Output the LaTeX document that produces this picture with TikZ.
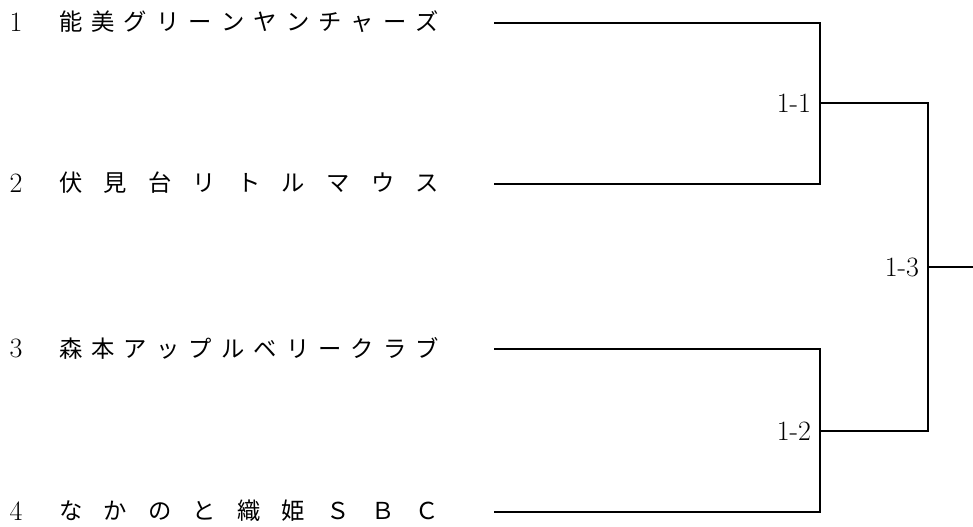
\documentclass[tikz,border=0pt]{standalone}
\usepackage{fontspec}
\newfontfamily\jpfont{Noto Sans CJK JP}
\usetikzlibrary{positioning}
\newcommand{\spreadname}[1]{\makebox[285pt][s]{\jpfont #1}}

\begin{document}
\begin{tikzpicture}[x=0.75pt,y=-0.75pt,line width=1.6pt,node distance=6pt]
  \tikzstyle{every node}=[font=\fontsize{17.5}{20}\selectfont,inner sep=0pt]
  \tikzstyle{seed}=[anchor=center,font=\fontsize{21}{24}\selectfont]
  \tikzstyle{score}=[font=\fontsize{21}{24}\selectfont]
  \tikzstyle{team}=[anchor=west]

  \useasboundingbox (0,0) rectangle (973,527);

  % seeds and team names
  \node[seed] (n1) at (16,22)  {1};
  \node[seed] (n2) at (16,183) {2};
  \node[seed] (n3) at (16,348) {3};
  \node[seed] (n4) at (16,511) {4};
  \node[team] (t1) at (58,22)  {\spreadname{能\hfill 美\hfill グ\hfill リ\hfill ー\hfill ン\hfill ヤ\hfill ン\hfill チ\hfill ャ\hfill ー\hfill ズ}};
  \node[team] (t2) at (58,183) {\spreadname{伏\hfill 見\hfill 台\hfill リ\hfill ト\hfill ル\hfill マ\hfill ウ\hfill ス}};
  \node[team] (t3) at (58,348) {\spreadname{森\hfill 本\hfill ア\hfill ッ\hfill プ\hfill ル\hfill ベ\hfill リ\hfill ー\hfill ク\hfill ラ\hfill ブ}};
  \node[team] (t4) at (58,511) {\spreadname{な\hfill か\hfill の\hfill と\hfill 織\hfill 姫\hfill Ｓ\hfill Ｂ\hfill Ｃ}};

  % bracket points
  \coordinate (s1) at (494,23);
  \coordinate (s2) at (494,184);
  \coordinate (s3) at (494,349);
  \coordinate (s4) at (494,512);
  \coordinate (m1) at (820,103);
  \coordinate (m2) at (820,431);
  \coordinate (m3) at (928,267);
  \coordinate (w)  at (973,267);

  \node[score] (r1) [left=6pt of m1] {1-1};
  \node[score] (r2) [left=6pt of m2] {1-2};
  \node[score] (r3) [left=6pt of m3] {1-3};

  \draw (s1) -| (m1) |- (s2);
  \draw (s3) -| (m2) |- (s4);
  \draw (m1) -| (m3) |- (m2);
  \draw (m3) -- (w);
\end{tikzpicture}
\end{document}
